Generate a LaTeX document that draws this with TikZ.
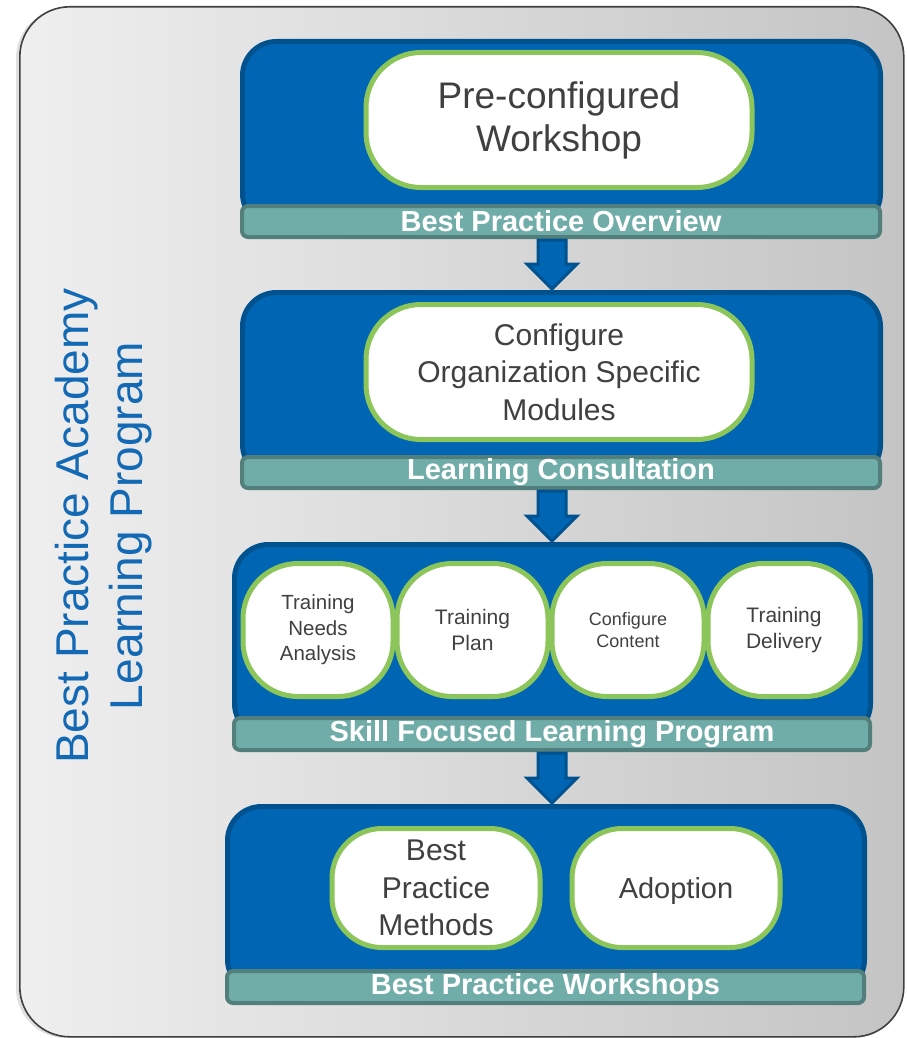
\documentclass[tikz,border=0pt]{standalone}
\usepackage{fontspec}
\setmainfont{Liberation Sans}
\definecolor{panelblue}{HTML}{0066B3}
\definecolor{panelborder}{HTML}{00528E}
\definecolor{boxgreen}{HTML}{8CC55A}
\definecolor{tealfill}{HTML}{70ADA8}
\definecolor{tealborder}{HTML}{527F7C}
\definecolor{txtgray}{HTML}{404040}
\definecolor{titleblue}{HTML}{1469B4}
\definecolor{frameleft}{HTML}{EFEFEF}
\definecolor{frameright}{HTML}{C4C4C4}
\tikzset{
  frame/.style={draw=txtgray, line width=1.6pt, rounded corners=50pt, left color=frameleft, right color=frameright},
  panel/.style={draw=panelborder, fill=panelblue, line width=5pt, rounded corners=34pt},
  bar/.style={draw=tealborder, fill=tealfill, line width=4pt, rounded corners=6pt, text=white,
    font=\bfseries\fontsize{29}{31}\selectfont, inner sep=0pt},
  wbox/.style={draw=boxgreen, fill=white, line width=5pt, text=txtgray, align=center, inner sep=0pt},
  blockarrow/.style={draw=panelborder, fill=panelblue, line width=3pt, line join=miter},
}
\begin{document}
\begin{tikzpicture}[x=1pt,y=-1pt]
\useasboundingbox (0,0) rectangle (906,1038);
% outer frame
\fill[black!12, rounded corners=50pt] (16,8) rectangle (903,1038);
\node[frame, minimum width=884pt, minimum height=1030pt, anchor=north west] (frame) at (19,6) {};
% vertical title
\node[rotate=90, text=titleblue, align=center, font=\fontsize{46}{54}\selectfont] (title) at (104,526)
  {Best Practice Academy\\Learning Program};

% panel 1
\node[panel, minimum width=638pt, minimum height=186pt, anchor=north west] (p1) at (240,39) {};
\node[bar, minimum width=638pt, minimum height=31pt, anchor=north west] (b1) at (240,204) {Best Practice Overview};
\node[wbox, minimum width=386pt, minimum height=135pt, rounded corners=55pt, font=\fontsize{37}{43}\selectfont] (w1) at (559,120) {Pre-configured\\Workshop};

% panel 2
\node[panel, minimum width=638pt, minimum height=186pt, anchor=north west] (p2) at (240,290) {};
\node[bar, minimum width=638pt, minimum height=31pt, anchor=north west] (b2) at (240,455) {Learning Consultation};
\node[wbox, minimum width=386pt, minimum height=135pt, rounded corners=55pt, font=\fontsize{30}{37.5}\selectfont] (w2) at (559,372) {Configure\\Organization Specific\\Modules};

% panel 3
\node[panel, minimum width=636pt, minimum height=193pt, anchor=north west] (p3) at (232,542) {};
\node[bar, minimum width=636pt, minimum height=32pt, anchor=north west] (b3) at (232,716) {Skill Focused Learning Program};
\node[wbox, minimum width=150pt, minimum height=133pt, rounded corners=55pt, font=\fontsize{20.5}{25.5}\selectfont] (w3a) at (318,630) {Training\\Needs\\Analysis};
\node[wbox, minimum width=151pt, minimum height=133pt, rounded corners=55pt, font=\fontsize{21}{25.5}\selectfont] (w3b) at (472.5,630) {Training\\Plan};
\node[wbox, minimum width=152pt, minimum height=133pt, rounded corners=55pt, font=\fontsize{18}{22.5}\selectfont] (w3c) at (628,630) {Configure\\Content};
\node[wbox, minimum width=152pt, minimum height=133pt, rounded corners=55pt, font=\fontsize{21}{25.5}\selectfont] (w3d) at (784,630) {Training\\Delivery};

% panel 4
\node[panel, minimum width=637pt, minimum height=187pt, anchor=north west] (p4) at (225,804) {};
\node[bar, minimum width=637pt, minimum height=32pt, anchor=north west] (b4) at (225,969) {Best Practice Workshops};
\node[wbox, minimum width=208pt, minimum height=119pt, rounded corners=50pt, font=\fontsize{30}{37.5}\selectfont] (w4a) at (436,888) {Best\\Practice\\Methods};
\node[wbox, minimum width=208pt, minimum height=119pt, rounded corners=50pt, font=\fontsize{29}{36}\selectfont, text depth=0pt] (w4b) at (676,888) {Adoption};

% arrows
\foreach \a/\b in {b1/p2, b2/p3, b3/p4}{
  \coordinate (s) at ([yshift=-1pt]\a.south -| 552,0);
  \coordinate (t) at ([yshift=1pt]\b.north -| 552,0);
  \draw[blockarrow] ([xshift=-14pt]s) -- ([xshift=14pt]s) -- ([xshift=14pt,yshift=25pt]t)
     -- ([xshift=25pt,yshift=25pt]t) -- (t) -- ([xshift=-25pt,yshift=25pt]t)
     -- ([xshift=-14pt,yshift=25pt]t) -- cycle;
}
\end{tikzpicture}
\end{document}
